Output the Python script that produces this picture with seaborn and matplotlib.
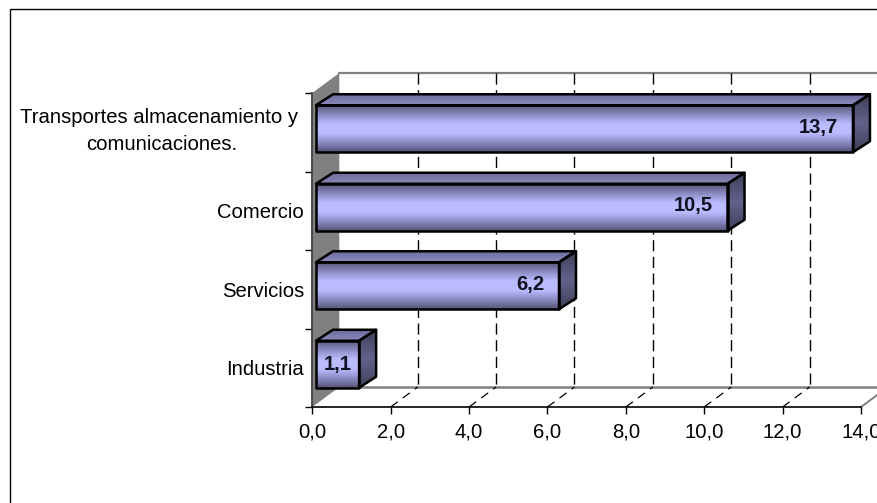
import numpy as np
import matplotlib
matplotlib.use('Agg')
import matplotlib.pyplot as plt
import matplotlib.patches as mpatches
from matplotlib.colors import LinearSegmentedColormap
from matplotlib.transforms import ScaledTranslation
import seaborn as sns

categories = ['Transportes almacenamiento y \ncomunicaciones.', 'Comercio', 'Servicios', 'Industria']
values = [13.7, 10.5, 6.2, 1.1]
value_labels = ['13,7', '10,5', '6,2', '1,1']
x_ticks = [0, 2, 4, 6, 8, 10, 12, 14]
x_tick_labels = ['0,0', '2,0', '4,0', '6,0', '8,0', '10,0', '12,0', '14,0']

W, H = 877, 503
sns.set_style('white')
plt.rcParams['font.family'] = ['Liberation Sans', 'DejaVu Sans']

fig = plt.figure(figsize=(W / 100, H / 100), dpi=100)
ax = fig.add_axes([312.3 / W, 1 - 407 / H, (861 - 312.3) / W, (407 - 93) / H])

sns.barplot(x=values, y=categories, orient='h', width=47 / 78.5, color='#b9b9ff',
            edgecolor='black', linewidth=1.6, ax=ax, zorder=5)
ax.set_xlim(0, 14)
ax.set_ylim(3.5, -0.5)

# pixel sizes converted to data units
px_x = 14 / (861 - 312.3)
px_y = 4 / (407 - 93)
wall_dx, wall_dy = 27 * px_x, 20 * px_y
bar_dx, bar_dy = 17 * px_x, 11 * px_y
shift_x, shift_y = 3.7 * px_x, 3.5 * px_y

face = LinearSegmentedColormap.from_list('face', ['#55557a', '#8c8cc4', '#bbbbff', '#bbbbff', '#8c8cc4', '#55557a'])
top = LinearSegmentedColormap.from_list('top', ['#6c6c9c', '#8a8abc'])
side = LinearSegmentedColormap.from_list('side', ['#3f3f58', '#62628c', '#3f3f58'])
gradient = np.linspace(0, 1, 64).reshape(-1, 1)

# side wall, floor and back wall
floor = 3.5
ceiling = -0.5
ax.fill([0, wall_dx, wall_dx, 0], [ceiling, ceiling - wall_dy, floor - wall_dy, floor],
        color='#808080', lw=0, clip_on=False, zorder=1)
ax.plot([wall_dx, 14 + wall_dx], [ceiling - wall_dy] * 2, color='#808080', lw=1.6, clip_on=False, zorder=1)
ax.plot([wall_dx, 14 + wall_dx], [floor - wall_dy] * 2, color='#808080', lw=1.8, clip_on=False, zorder=1)
ax.plot([14, 14 + wall_dx], [floor, floor - wall_dy], color='#808080', lw=1.4, clip_on=False, zorder=1)
for t in x_ticks[1:-1]:
    ax.plot([t + wall_dx] * 2, [ceiling - wall_dy, floor - wall_dy], color='black', lw=1,
            ls=(0, (8, 4)), clip_on=False, zorder=2)
    ax.plot([t, t + wall_dx], [floor, floor - wall_dy], color='black', lw=0.9,
            ls=(0, (7, 5)), clip_on=False, zorder=2)


def shaded_poly(xs, ys, cmap, zorder):
    poly = mpatches.Polygon(list(zip(xs, ys)), closed=True, facecolor='none', edgecolor='black',
                            lw=1.8, clip_on=False, zorder=zorder + 0.1, joinstyle='round')
    ax.add_patch(poly)
    img = ax.imshow(gradient, extent=[min(xs), max(xs), max(ys), min(ys)], aspect='auto',
                    cmap=cmap, zorder=zorder, interpolation='bilinear')
    img.set_clip_box(fig.bbox)
    img.set_clip_path(poly)


for i, (bar, label) in enumerate(zip(list(ax.patches), value_labels)):
    w = bar.get_width()
    h = bar.get_height()
    x0 = bar.get_x() + shift_x
    y0 = bar.get_y() - shift_y
    bar.set_visible(False)
    x1, y1 = x0 + w, y0 + h
    z = 5 + i
    shaded_poly([x0, x1, x1 + bar_dx, x0 + bar_dx], [y0, y0, y0 - bar_dy, y0 - bar_dy], top, z)
    shaded_poly([x1, x1 + bar_dx, x1 + bar_dx, x1], [y0, y0 - bar_dy, y1 - bar_dy, y1], side, z)
    shaded_poly([x0, x1, x1, x0], [y0, y0, y1, y1], face, z)
    if w < 2:
        ax.text(x0 + w / 2, (y0 + y1) / 2, label, ha='center', va='center', fontsize=14.5,
                fontweight='bold', color='#111122', zorder=z + 1)
    else:
        ax.text(x1 - 15 * px_x, (y0 + y1) / 2 - 1.5 * px_y, label, ha='right', va='center', fontsize=14.5,
                fontweight='bold', color='#111122', zorder=z + 1)

ax.set_xlim(0, 14)
ax.set_ylim(3.5, -0.5)
ax.set_xticks(x_ticks)
ax.set_xticklabels(x_tick_labels, fontsize=14.6, color='black')
ax.set_yticks([-0.5, 0.5, 1.5, 2.5, 3.5], labels=[])
ax.set_yticks([0, 1, 2, 3], labels=categories, minor=True, fontsize=14.6, color='black',
              multialignment='center', linespacing=1.55)
ax.tick_params(axis='y', which='minor', length=0, pad=6)
ax.tick_params(axis='y', which='major', length=5, width=1, color='black', left=True)
ax.tick_params(axis='x', length=5, width=1, color='black', bottom=True, pad=6)
# the two-line label sits a little above its band
first = ax.get_yticklabels(minor=True)[0]
first.set_transform(first.get_transform() + ScaledTranslation(0, 5.5 / 72, fig.dpi_scale_trans))
ax.set_xlabel('')
ax.set_ylabel('')
sns.despine(ax=ax, top=True, right=True)
ax.spines['left'].set_color('#404040')
ax.spines['left'].set_linewidth(1.3)
ax.spines['bottom'].set_color('black')
ax.spines['bottom'].set_linewidth(1.2)
ax.spines['left'].set_zorder(3)
ax.spines['bottom'].set_zorder(3)
ax.patch.set_alpha(0)

# chart area border, right and bottom sides run off the picture
fig.add_artist(mpatches.Rectangle((9.5 / W, -10 / H), (W + 10) / W, (H + 10 - 9) / H, transform=fig.transFigure,
                                  facecolor='none', edgecolor='black', lw=1))
fig.savefig('out.png', dpi=100)
